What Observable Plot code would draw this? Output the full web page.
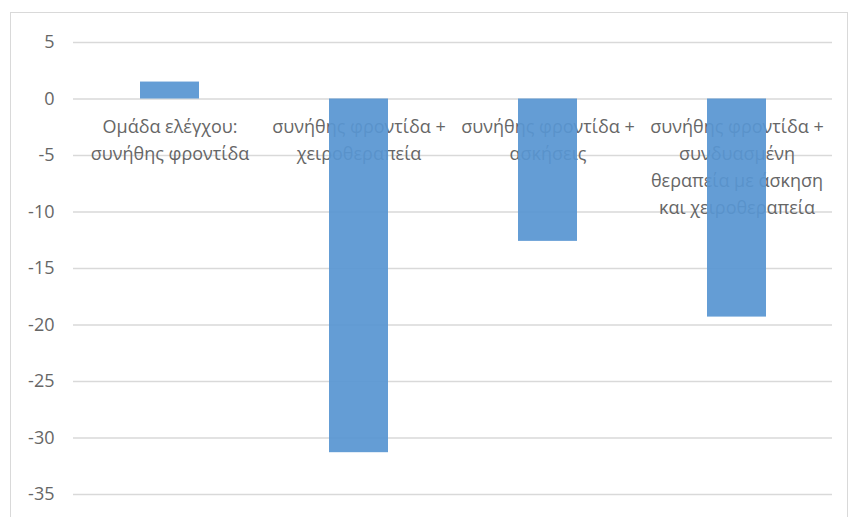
<!DOCTYPE html>
<html>
<head>
<meta charset="utf-8">
<script src="https://cdn.jsdelivr.net/npm/d3@7"></script>
<script src="https://cdn.jsdelivr.net/npm/@observablehq/plot@0.6"></script>
<style>
  html, body { margin: 0; padding: 0; background: #fff; }
  #wrap { position: relative; width: 850px; height: 517px; overflow: hidden; }
  #frame { position: absolute; left: 10px; top: 12px; width: 838px; height: 540px; border: 1px solid #d9d9d9; box-sizing: border-box; pointer-events: none; }
  #chart { position: absolute; left: 0; top: 0; }
</style>
</head>
<body>
<div id="wrap"><div id="chart"></div><div id="frame"></div></div>
<script>
const categories = [
  "Ομάδα ελέγχου:\nσυνήθης φροντίδα",
  "συνήθης φροντίδα +\nχειροθεραπεία",
  "συνήθης φροντίδα +\nασκήσεις",
  "συνήθης φροντίδα +\nσυνδυασμένη\nθεραπεία με άσκηση\nκαι χειροθεραπεία"
];
const values = [1.5, -31.3, -12.6, -19.3];
const yTicks = [5, 0, -5, -10, -15, -20, -25, -30, -35];

const data = categories.map((c, i) => ({category: c, value: values[i]}));

const chart = Plot.plot({
  width: 850,
  height: 517,
  marginLeft: 73,
  marginRight: 18,
  marginTop: 42,
  marginBottom: 23,
  style: {fontFamily: "'Open Sans', sans-serif", background: "transparent"},
  x: {domain: categories, paddingInner: 0.69, paddingOuter: 0.345, axis: null},
  y: {domain: [-35, 5], ticks: yTicks, axis: null},
  marks: [
    Plot.ruleY(yTicks, {stroke: "#d9d9d9", strokeWidth: 1.5}),
    Plot.axisY({ticks: yTicks, tickSize: 0, tickPadding: 19, fontSize: 18, color: "#666666", tickFormat: d => String(d), label: null}),
    Plot.text(data, {x: "category", y: () => 0, text: "category", dy: 15, lineAnchor: "top", lineHeight: 1.5, fontSize: 18, fill: "#666666", textAnchor: "middle"}),
    Plot.barY(data, {x: "category", y: "value", fill: "#5896d2", fillOpacity: 0.93})
  ]
});
document.getElementById("chart").appendChild(chart);
</script>
</body>
</html>
